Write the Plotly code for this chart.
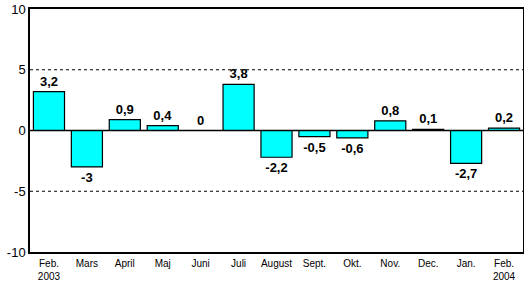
import plotly.graph_objects as go

categories = ["Feb.<br>2003", "Mars", "April", "Maj", "Juni", "Juli", "August",
              "Sept.", "Okt.", "Nov.", "Dec.", "Jan.", "Feb.<br>2004"]
values = [3.2, -3, 0.9, 0.4, 0, 3.8, -2.2, -0.5, -0.6, 0.8, 0.1, -2.7, 0.2]
labels = ["3,2", "-3", "0,9", "0,4", "0", "3,8", "-2,2", "-0,5", "-0,6", "0,8", "0,1", "-2,7", "0,2"]
y_ticks = [-10, -5, 0, 5, 10]

fig = go.Figure()
fig.add_trace(go.Bar(
    x=list(range(len(categories))), y=values, text=labels,
    textposition="outside", cliponaxis=False,
    textfont=dict(family="Liberation Sans, Arial", size=13, color="black", weight="bold"),
    marker=dict(color="#00FFFF", line=dict(color="black", width=1.2)),
    width=0.82,
))

for v in [5, -5]:
    fig.add_shape(type="line", xref="paper", x0=0, x1=1, y0=v, y1=v,
                  line=dict(color="black", width=1, dash="3px,3px"), layer="below")
fig.add_shape(type="line", xref="paper", x0=0, x1=1, y0=0, y1=0,
              line=dict(color="black", width=1.5), layer="above")

fig.update_layout(
    width=524, height=283,
    margin=dict(l=30, r=1, t=9, b=31),
    plot_bgcolor="white", paper_bgcolor="white",
    showlegend=False,
    font=dict(family="Liberation Sans, Arial", color="black"),
    xaxis=dict(
        tickmode="array", tickvals=list(range(len(categories))), ticktext=categories,
        range=[-0.5, len(categories) - 0.5],
        showgrid=False, zeroline=False, showline=True, mirror=True,
        linecolor="black", linewidth=1.5, ticks="",
        ticklabelstandoff=1, automargin=False,
        tickfont=dict(size=10, family="Liberation Sans, Arial"),
    ),
    yaxis=dict(
        range=[-10, 10], tickvals=y_ticks, ticktext=[str(t) for t in y_ticks],
        showgrid=False, zeroline=False, showline=True, mirror=True,
        linecolor="black", linewidth=1.5, ticks="", automargin=False,
        tickfont=dict(size=13, family="Liberation Sans, Arial"),
    ),
)

fig.write_html("out.html")
